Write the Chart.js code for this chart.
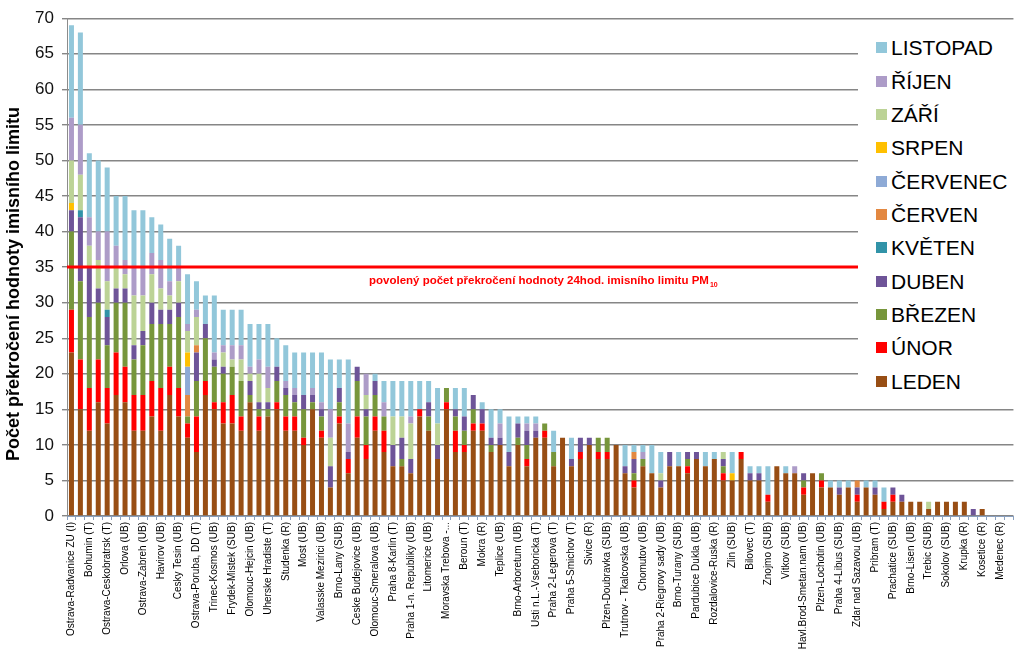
<!DOCTYPE html>
<html><head><meta charset="utf-8">
<script src="https://cdn.jsdelivr.net/npm/chart.js@4.4.0/dist/chart.umd.min.js"></script>
<style>
html,body{margin:0;padding:0;background:#fff;}
#wrap{position:relative;width:1023px;height:653px;overflow:hidden;}
#legend{position:absolute;left:858px;top:22px;width:165px;height:378px;background:#fff;font-family:"Liberation Sans",Arial,sans-serif;font-size:21px;color:#000;}
.li{position:absolute;left:18px;height:24px;line-height:24px;white-space:nowrap;}
.sw{display:inline-block;width:11px;height:11px;margin-right:4px;vertical-align:middle;position:relative;top:-2px}
</style></head><body>
<div id="wrap"><canvas id="c" width="1023" height="653"></canvas><div id="legend"></div></div>
<script>
const categories = ['Ostrava-Radvanice ZU (I)','','Bohumin (T)','','Ostrava-Ceskobratrsk (T)','','Orlova (UB)','','Ostrava-Zabreh (UB)','','Havirov (UB)','','Cesky Tesin (UB)','','Ostrava-Poruba, DD (T)','','Trinec-Kosmos (UB)','','Frydek-Mistek (SUB)','','Olomouc-Hejcin (UB)','','Uherske Hradiste (T)','','Studenka (R)','','Most (UB)','','Valasske Mezirici (UB)','','Brno-Lany (SUB)','','Ceske Budejovice (UB)','','Olomouc-Smeralova (UB)','','Praha 8-Karlin (T)','','Praha 1-n. Republiky (UB)','','Litomerice (UB)','','Moravska Trebova -...','','Beroun (T)','','Mokra (R)','','Teplice (UB)','','Brno-Arboretum (UB)','','Usti n.L.-Vseboricka (T)','','Praha 2-Legerova (T)','','Praha 5-Smichov (T)','','Sivice (R)','','Plzen-Doubravka (SUB)','','Trutnov - Tkalcovska (UB)','','Chomutov (UB)','','Praha 2-Riegrovy sady (UB)','','Brno-Turany (SUB)','','Pardubice Dukla (UB)','','Rozdalovice-Ruska (R)','','Zlin (SUB)','','Bilovec (T)','','Znojmo (SUB)','','Vitkov (SUB)','','Havl.Brod-Smetan.nam (UB)','','Plzen-Lochotin (UB)','','Praha 4-Libus (SUB)','','Zdar nad Sazavou (UB)','','Pribram (T)','','Prachatice (SUB)','','Brno-Lisen (UB)','','Trebic (SUB)','','Sokolov (SUB)','','Krupka (R)','','Kosetice (R)','','Medenec (R)',''];

const leden = [23,15,12,16,13,17,16,12,12,14, 12,17,14,11,9,17,15,13,13,12, 16,12,14,15,12,12,10,15,11,4, 13,6,11,8,12,9,7,7,6,14, 12,8,15,9,9,12,12,9,10,7, 10,7,11,11,7,11,7,8,10,8, 8,10,6,4,7,6,4,7,7,6, 8,7,8,5,5,8,5,5,2,7, 6,6,3,6,4,4,3,4,2,4, 3,1,2,2,2,2,1,2,2,2, 2,0,1,0,0,0];
const unor = [6,7,6,6,5,6,5,5,5,5, 6,4,4,2,5,2,1,3,4,2, 0,2,0,1,2,2,1,0,1,0, 1,2,3,2,2,3,0,0,0,1, 0,0,1,3,1,1,1,0,0,0, 0,1,0,1,0,0,0,1,0,1, 1,0,0,1,0,0,0,0,0,1, 0,0,0,1,0,1,0,0,1,0, 0,0,1,0,1,0,0,0,1,0, 0,1,1,0,0,0,0,0,0,0, 0,0,0,0,0,0];
const brezen = [11,11,10,8,6,7,9,5,7,8, 9,6,10,1,5,6,5,4,4,5, 1,1,1,3,3,2,4,1,2,0, 2,0,5,4,3,2,0,1,0,0, 2,0,2,2,2,2,0,1,0,0, 1,2,0,1,2,0,0,0,0,2, 2,0,0,1,1,0,0,0,0,1, 0,0,0,1,0,0,0,0,0,0, 0,0,1,0,1,0,0,0,0,0, 0,0,0,0,0,0,0,0,0,0, 0,0,0,0,0,0];
const duben = [3,9,7,2,4,2,2,2,2,3, 2,2,2,0,4,2,1,1,0,0, 2,1,1,2,1,1,2,1,1,3, 2,1,2,1,2,0,3,3,2,0, 2,2,0,1,2,2,2,1,1,2, 2,2,1,0,0,0,1,2,1,0, 0,0,1,2,0,0,1,2,0,1, 1,0,0,1,0,0,1,1,0,0, 0,0,1,0,0,0,1,0,1,0, 1,0,1,1,0,0,0,0,0,0, 0,1,0,0,0,0];
const kveten = [0,1,0,0,1,0,0,0,0,0, 0,0,0,0,0,0,0,0,0,0, 0,0,0,0,0,0,0,0,0,0, 0,0,0,0,0,0,0,0,0,0, 0,0,0,0,0,0,0,0,0,0, 0,0,0,0,0,0,0,0,0,0, 0,0,0,0,0,0,0,0,0,0, 0,0,0,0,0,0,0,0,0,0, 0,0,0,0,0,0,0,0,0,0, 0,0,0,0,0,0,0,0,0,0, 0,0,0,0,0,0];
const cerven = [0,0,0,0,0,0,0,0,0,0, 0,0,0,3,1,0,0,0,0,0, 0,0,0,0,0,0,0,0,0,0, 0,0,0,0,0,0,0,0,0,0, 0,0,0,0,0,0,0,0,0,0, 0,0,0,0,0,0,0,0,0,0, 0,0,0,1,0,0,0,0,0,0, 0,0,0,0,0,0,0,0,0,0, 0,0,0,0,0,0,0,0,1,0, 0,0,0,0,0,0,0,0,0,0, 0,0,0,0,0,0];
const cervenec = [0,0,0,0,0,0,0,0,0,0, 0,0,0,4,0,0,0,0,0,0, 0,0,0,0,0,0,0,0,0,0, 0,0,0,0,0,0,0,0,0,0, 0,0,0,0,0,0,0,0,0,0, 0,0,0,0,0,0,0,0,0,0, 0,0,0,0,0,0,0,0,0,0, 0,0,0,0,0,0,0,0,0,0, 0,0,0,0,0,0,0,0,0,0, 0,0,0,0,0,0,0,0,0,0, 0,0,0,0,0,0];
const srpen = [1,0,0,0,0,0,0,0,0,0, 0,0,0,2,0,0,0,0,0,0, 0,0,0,0,0,0,0,0,0,0, 0,0,0,0,0,0,0,0,0,0, 0,0,0,0,0,0,0,0,0,0, 0,0,0,0,0,0,0,0,0,0, 0,0,0,0,0,0,0,0,0,0, 0,0,0,0,1,0,0,0,0,0, 0,0,0,0,0,0,0,0,0,0, 0,0,0,0,0,0,0,0,0,0, 0,0,0,0,0,0];
const zari = [6,5,3,4,4,3,2,7,5,4, 3,2,3,3,4,0,0,2,1,3, 1,4,2,0,0,0,0,0,0,4, 0,0,0,2,0,0,4,3,5,0, 0,3,0,0,0,0,0,0,0,0, 0,0,0,0,0,0,0,0,0,0, 0,0,0,0,0,0,1,0,0,0, 0,0,0,1,0,0,0,0,0,0, 0,0,0,0,0,0,0,0,0,0, 0,0,0,0,0,0,1,0,0,0, 0,0,0,0,0,0];
const rijen = [6,7,4,4,7,3,2,4,4,3, 4,2,2,1,1,0,1,1,2,2, 1,2,3,0,1,1,0,1,1,4, 0,4,0,3,0,2,0,0,1,0, 0,0,0,0,0,0,0,0,2,0, 0,1,1,0,0,0,0,0,0,0, 0,0,0,0,1,0,0,0,0,0, 0,0,0,0,0,0,0,0,0,0, 0,1,0,0,0,0,0,0,0,0, 0,0,0,0,0,0,0,0,0,0, 0,0,0,0,0,0];
const listopad = [13,13,9,10,9,7,9,8,8,5, 5,6,3,7,4,4,8,5,5,5, 6,5,6,4,5,5,6,5,7,7, 4,9,0,0,1,3,5,5,5,4, 3,5,0,3,4,0,1,4,2,5, 1,1,1,0,3,0,3,0,0,0, 0,0,3,1,1,4,3,0,2,0, 0,2,1,0,3,0,1,1,4,0, 1,0,0,0,0,1,1,1,0,1, 1,2,0,0,0,0,0,0,0,0, 0,0,0,0,0,0];

const seriesNames = ['LEDEN','ÚNOR','BŘEZEN','DUBEN','KVĚTEN','ČERVEN','ČERVENEC','SRPEN','ZÁŘÍ','ŘÍJEN','LISTOPAD'];
const seriesValues = [leden,unor,brezen,duben,kveten,cerven,cervenec,srpen,zari,rijen,listopad];
const seriesColors = ['#984e14','#ff0000','#77963b','#6e5498','#3193a8','#e38841','#8eaad6','#ffc000','#bcd396','#ad9cc8','#92c7da'];
const yTicks = {min:0, max:70, step:5};
const LIMIT = 35;
const LIMIT_LABEL = 'povolený počet překročení hodnoty 24hod. imisního limitu PM';
const LIMIT_SUB = '10';
const Y_TITLE = 'Počet překročení hodnoty imisního limitu';

const FONT = '"Liberation Sans", Arial, sans-serif';
Chart.defaults.font.family = FONT;

const overlay = {
  id:'overlay',
  afterDatasetsDraw(chart){
    const {ctx, chartArea, scales:{y}} = chart;
    const py = Math.round(y.getPixelForValue(LIMIT));
    ctx.save();
    ctx.strokeStyle = '#ff0000'; ctx.lineWidth = 3;
    ctx.beginPath(); ctx.moveTo(chartArea.left, py); ctx.lineTo(chartArea.right, py); ctx.stroke();
    ctx.fillStyle = '#ff0000'; ctx.textBaseline = 'middle'; ctx.textAlign = 'left';
    ctx.font = 'bold 11.5px ' + FONT;
    const lx = 369, ly = py + 14;
    ctx.fillText(LIMIT_LABEL, lx, ly);
    const w = ctx.measureText(LIMIT_LABEL).width;
    ctx.font = 'bold 7px ' + FONT;
    ctx.fillText(LIMIT_SUB, lx + w + 1, ly + 4);
    ctx.restore();
  },
  afterDraw(chart){
    const {ctx} = chart;
    ctx.save();
    ctx.translate(14, 284); ctx.rotate(-Math.PI/2);
    ctx.fillStyle = '#000'; ctx.textAlign = 'center'; ctx.textBaseline = 'middle';
    ctx.font = 'bold 18px ' + FONT;
    ctx.fillText(Y_TITLE, 0, 0);
    ctx.restore();
  }
};

new Chart(document.getElementById('c'), {
  type:'bar',
  data:{
    labels: categories,
    datasets: seriesNames.map((n,i)=>({label:n, data:seriesValues[i], backgroundColor:seriesColors[i], borderWidth:0, categoryPercentage:1, barPercentage:0.56}))
  },
  options:{
    responsive:false, animation:false,
    layout:{padding:{top:15,right:5,left:0,bottom:0}},
    plugins:{legend:{display:false}, tooltip:{enabled:false}},
    scales:{
      x:{stacked:true,
        grid:{drawOnChartArea:false, tickLength:4, color:'#8aa0bf'},
        border:{color:'#8aa0bf', width:1},
        ticks:{autoSkip:false, maxRotation:90, minRotation:90, padding:2, color:'#000', font:{size:10}},
        afterFit(s){ s.height = 137; }
      },
      y:{stacked:true, min:yTicks.min, max:yTicks.max,
        grid:{color:'#868686', lineWidth:1.4, tickLength:5},
        border:{color:'#8c8c8c', width:1},
        ticks:{stepSize:yTicks.step, padding:8, color:'#111', font:{size:17}},
        afterFit(s){ s.width = 67; }
      }
    }
  },
  plugins:[overlay]
});

const lg = document.getElementById('legend');
for (let k = seriesNames.length-1, i = 0; k >= 0; k--, i++) {
  const d = document.createElement('div');
  d.className = 'li';
  d.style.top = (26.3 + i*33.35 - 12) + 'px';
  d.innerHTML = '<span class="sw" style="background:'+seriesColors[k]+'"></span>' + seriesNames[k];
  lg.appendChild(d);
}
</script>
</body></html>
